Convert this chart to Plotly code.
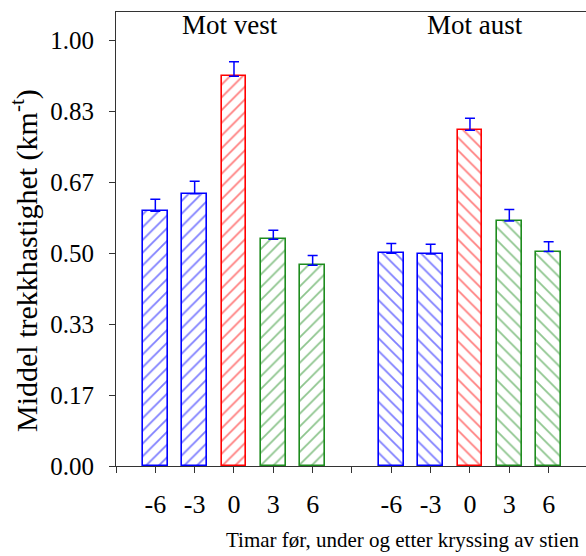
import plotly.graph_objects as go

categories = ["-6", "-3", "0", "3", "6"]
vest_values = [0.599, 0.640, 0.916, 0.533, 0.472]
vest_errors = [0.028, 0.029, 0.034, 0.021, 0.023]
aust_values = [0.500, 0.498, 0.789, 0.576, 0.504]
aust_errors = [0.023, 0.023, 0.028, 0.027, 0.023]
group_labels = ["Mot vest", "Mot aust"]
ytick_vals = [0, 1/6, 2/6, 3/6, 4/6, 5/6, 1.0]
ytick_text = ["0.00", "0.17", "0.33", "0.50", "0.67", "0.83", "1.00"]

BLUE = "#0000FF"
RED = "#FF0000"
GREEN = "#1E8C1E"
bar_colors = [BLUE, BLUE, RED, GREEN, GREEN]
FONT = "Times New Roman, Liberation Serif, DejaVu Serif, serif"

vest_x = [i + 1 for i in range(len(categories))]
aust_x = [i + 7 for i in range(len(categories))]

fig = go.Figure()
for xs, vals, errs, shape in [(vest_x, vest_values, vest_errors, "/"),
                              (aust_x, aust_values, aust_errors, "\\")]:
    fig.add_trace(go.Bar(
        x=xs, y=vals, width=0.62,
        marker=dict(color="white",
                    line=dict(color=bar_colors, width=1.6),
                    pattern=dict(shape=shape, fgcolor=bar_colors, bgcolor="white",
                                 size=9, solidity=0.2, fillmode="overlay")),
        error_y=dict(type="data", array=errs, arrayminus=[0]*len(errs), symmetric=False,
                     color=BLUE, thickness=1.5, width=5),
        showlegend=False,
    ))

fig.update_layout(
    width=586, height=556,
    margin=dict(l=116, r=0, t=12, b=90),
    paper_bgcolor="white", plot_bgcolor="white",
    font=dict(family=FONT, size=24, color="black"),
    bargap=0,
    xaxis=dict(range=[0, 11.95], tickvals=vest_x + aust_x, ticktext=categories + categories,
               showline=True, linecolor="#333333", linewidth=1.2, mirror=True,
               ticks="outside", ticklen=6, tickcolor="#333333", tickwidth=1.2,
               minor=dict(tickvals=[0, 6], ticks="outside", ticklen=6,
                          tickcolor="#333333", tickwidth=1.2, showgrid=False),
               showgrid=False, zeroline=False, ticklabelstandoff=9,
               tickfont=dict(family=FONT, size=26)),
    yaxis=dict(range=[0, 1.067], tickvals=ytick_vals, ticktext=ytick_text,
               showline=True, linecolor="#333333", linewidth=1.2,
               ticks="outside", ticklen=6, tickcolor="#333333", tickwidth=1.2,
               showgrid=False, zeroline=False, ticklabelstandoff=10,
               tickfont=dict(family=FONT, size=25)),
)

fig.add_annotation(text=group_labels[0], xref="paper", yref="paper",
                   x=(230 - 116) / 470, y=(466 - 25) / 454, showarrow=False,
                   xanchor="center", yanchor="middle", font=dict(size=27))
fig.add_annotation(text=group_labels[1], xref="paper", yref="paper",
                   x=(475 - 116) / 470, y=(466 - 25) / 454, showarrow=False,
                   xanchor="center", yanchor="middle", font=dict(size=27))
fig.add_annotation(text="Timar før, under og etter kryssing av stien",
                   xref="paper", yref="paper", x=(402 - 116) / 470, y=(466 - 540) / 454,
                   showarrow=False, xanchor="center", yanchor="middle", font=dict(size=21))
fig.add_annotation(text="Middel trekkhastighet (km<sup>-t</sup>)",
                   xref="paper", yref="paper", x=(24 - 116) / 470, y=(466 - 261) / 454,
                   showarrow=False, textangle=-90, xanchor="center", yanchor="middle",
                   font=dict(size=30))

fig.write_html("out.html", config={"displayModeBar": False},
               post_script="document.body.style.margin='0';document.body.style.padding='0';")
